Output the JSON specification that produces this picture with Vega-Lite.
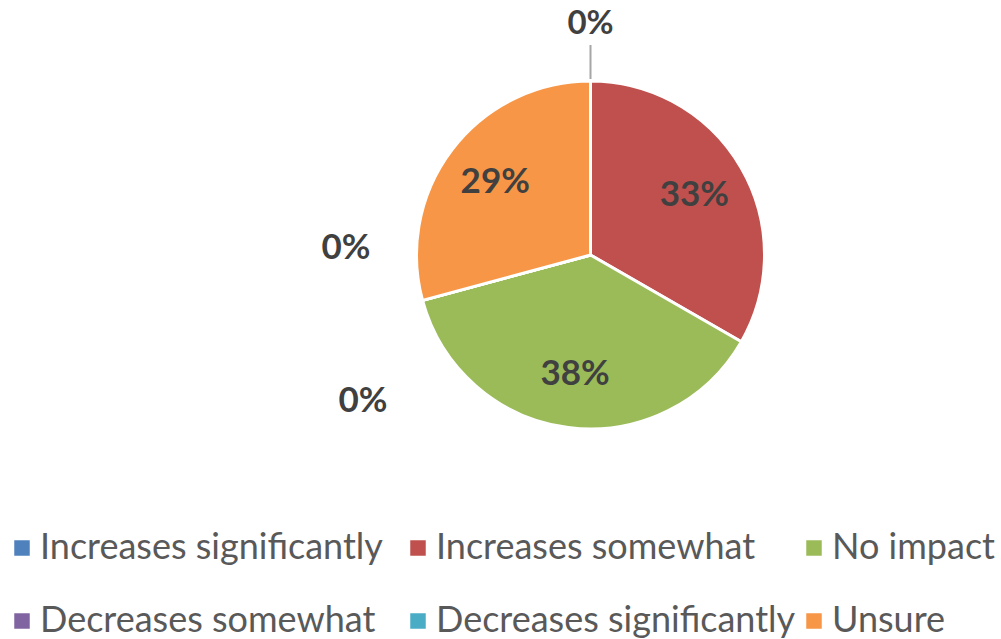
{
  "$schema": "https://vega.github.io/schema/vega-lite/v6.json",
  "width": 821,
  "height": 510,
  "autosize": {"type": "none"},
  "padding": {"left": 180, "top": 0, "right": 0, "bottom": 129},
  "background": "white",
  "config": {"view": {"stroke": null}},
  "data": {
    "values": [
      {"response": "Increases significantly", "share": 0, "rank": 1},
      {"response": "Increases somewhat", "share": 0.333, "rank": 2},
      {"response": "No impact", "share": 0.375, "rank": 3},
      {"response": "Decreases somewhat", "share": 0, "rank": 4},
      {"response": "Decreases significantly", "share": 0, "rank": 5},
      {"response": "Unsure", "share": 0.292, "rank": 6}
    ]
  },
  "encoding": {
    "theta": {"field": "share", "type": "quantitative", "stack": true},
    "order": {"field": "rank", "type": "quantitative"}
  },
  "layer": [
    {
      "mark": {"type": "arc", "outerRadius": 174, "stroke": "white", "strokeWidth": 3},
      "encoding": {
        "color": {
          "field": "response",
          "type": "nominal",
          "scale": {
            "domain": ["Increases significantly", "Increases somewhat", "No impact", "Decreases somewhat", "Decreases significantly", "Unsure"],
            "range": ["#4F81BD", "#C0504D", "#9BBB59", "#8064A2", "#4BACC6", "#F79646"]
          },
          "legend": {
            "title": null,
            "orient": "none",
            "direction": "horizontal",
            "legendX": -176,
            "legendY": 530,
            "columns": 3,
            "gridAlign": "all",
            "columnPadding": -2,
            "rowPadding": 37,
            "symbolType": "square",
            "symbolSize": 240,
            "symbolStrokeWidth": 0,
            "labelFont": "Lato",
            "labelFontSize": 36,
            "labelColor": "#595959",
            "labelOffset": 0,
            "labelLimit": 500
          }
        }
      }
    },
    {
      "mark": {"type": "arc", "innerRadius": 176, "outerRadius": 210, "fill": null, "strokeWidth": 2},
      "encoding": {
        "detail": {"field": "response", "type": "nominal"},
        "stroke": {"condition": {"test": "datum.response === 'Increases significantly'", "value": "#A6A6A6"}, "value": null}
      }
    },
    {
      "mark": {"type": "text", "radius": 120, "font": "Lato", "fontSize": 35, "fontWeight": "bold", "fill": "#404040", "baseline": "middle", "align": "center"},
      "encoding": {
        "detail": {"field": "response", "type": "nominal"},
        "text": {"condition": {"test": "datum.share > 0", "field": "share", "type": "quantitative", "format": ".0%"}, "value": ""}
      }
    },
    {
      "mark": {"type": "text", "radius": 231, "font": "Lato", "fontSize": 33, "fontWeight": "bold", "fill": "#404040", "baseline": "middle", "align": "center"},
      "encoding": {
        "detail": {"field": "response", "type": "nominal"},
        "text": {"condition": {"test": "datum.response === 'Increases significantly'", "field": "share", "type": "quantitative", "format": ".0%"}, "value": ""}
      }
    },
    {
      "mark": {"type": "text", "radius": 245, "dx": -8, "dy": -71, "font": "Lato", "fontSize": 35, "fontWeight": "bold", "fill": "#404040", "baseline": "middle", "align": "center"},
      "encoding": {
        "detail": {"field": "response", "type": "nominal"},
        "text": {"condition": {"test": "datum.response === 'Decreases somewhat'", "field": "share", "type": "quantitative", "format": ".0%"}, "value": ""}
      }
    },
    {
      "mark": {"type": "text", "radius": 245, "dx": 9, "dy": 82, "font": "Lato", "fontSize": 35, "fontWeight": "bold", "fill": "#404040", "baseline": "middle", "align": "center"},
      "encoding": {
        "detail": {"field": "response", "type": "nominal"},
        "text": {"condition": {"test": "datum.response === 'Decreases significantly'", "field": "share", "type": "quantitative", "format": ".0%"}, "value": ""}
      }
    }
  ]
}
